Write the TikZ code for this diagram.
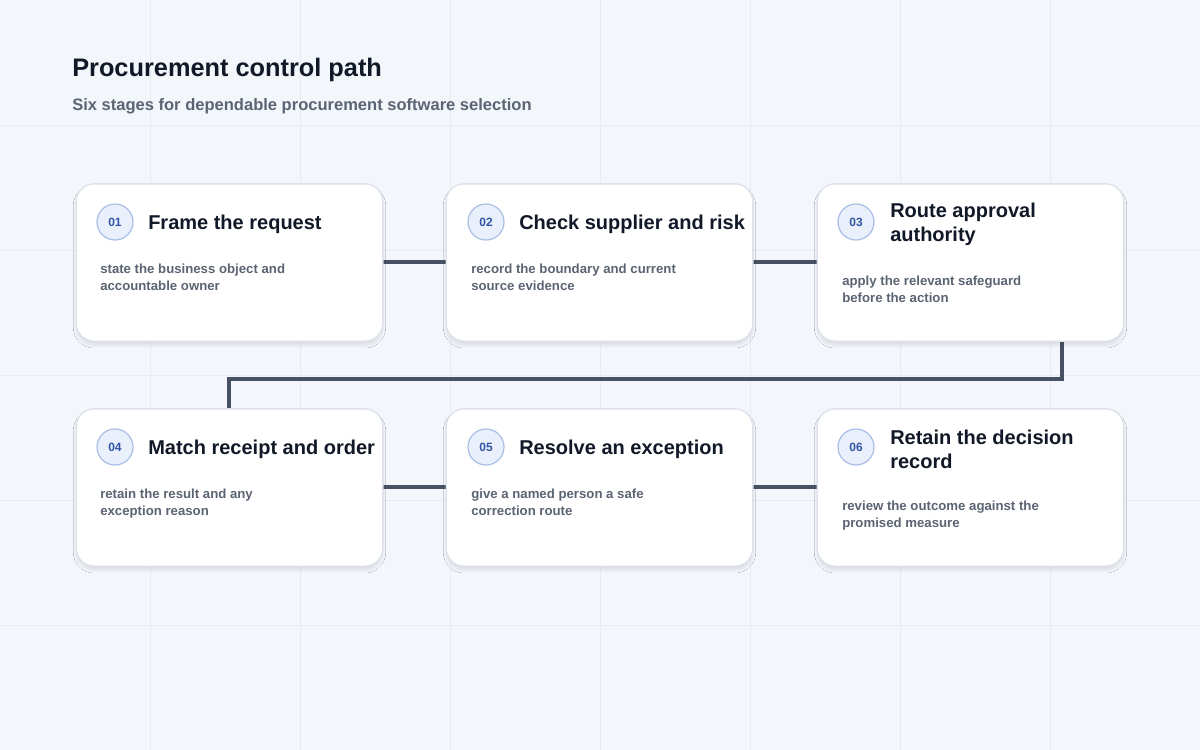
\documentclass[tikz,border=0pt]{standalone}
\usepackage{fontspec}
\setmainfont{Liberation Sans}
\usetikzlibrary{shadows.blur,calc}
\definecolor{bg}{HTML}{F3F6FB}
\definecolor{gridc}{HTML}{E7ECF3}
\definecolor{cardb}{HTML}{DDE2EA}
\definecolor{ink}{HTML}{111827}
\definecolor{sub}{HTML}{5B6472}
\definecolor{line}{HTML}{465264}
\definecolor{badgef}{HTML}{EAF0FB}
\definecolor{badgeb}{HTML}{A9BEE6}
\definecolor{badget}{HTML}{2F55A4}
\begin{document}
\begin{tikzpicture}[x=0.75pt,y=-0.75pt,
 card/.style={draw=cardb,line width=1pt,fill=white,rounded corners=13.5pt,minimum width=230pt,minimum height=118pt,inner sep=0pt,
   blur shadow={shadow blur steps=12,shadow xshift=0pt,shadow yshift=-3pt,shadow opacity=10,shadow blur extra rounding=3pt}},
 badge/.style={circle,draw=badgeb,line width=0.9pt,fill=badgef,minimum size=27pt,inner sep=0pt,text=badget,font=\fontsize{9}{10}\selectfont\bfseries},
 ttl/.style={anchor=west,align=left,text=ink,font=\fontsize{15}{18}\selectfont\bfseries,inner sep=0pt},
 body/.style={anchor=north west,align=left,text=sub,font=\fontsize{9.9}{12.2}\selectfont\bfseries,inner sep=0pt},
 conn/.style={draw=line,line width=3pt}]
\fill[bg] (0,0) rectangle (1200,750);
\useasboundingbox (0,0) rectangle (1200,750);
\foreach \x in {150,300,...,1050} \draw[gridc,line width=0.6pt] (\x,0) -- (\x,750);
\foreach \y in {125,250,375,500,625} \draw[gridc,line width=0.6pt] (0,\y) -- (1200,\y);
\node[anchor=west,inner sep=0pt,text=ink,font=\fontsize{19}{22}\selectfont\bfseries] (title) at (72,70) {Procurement control path};
\node[anchor=west,inner sep=0pt,text=sub,font=\fontsize{12.4}{14}\selectfont\bfseries] (subtitle) at (72,106) {Six stages for dependable procurement software selection};
\coordinate (k1) at (1062,379);
\coordinate (k2) at (229,379);
\draw[conn] (383,262) -- (446,262);
\draw[conn] (753,262) -- (817,262);
\draw[conn] (383,487) -- (446,487);
\draw[conn] (753,487) -- (817,487);
\draw[conn] (1062,341) -- (k1) -- (k2) -- (229,409);
\node[card] (c1) at (229.5,262.5) {};
\node[card] (c2) at (599.5,262.5) {};
\node[card] (c3) at (970.5,262.5) {};
\node[card] (c4) at (229.5,487.5) {};
\node[card] (c5) at (599.5,487.5) {};
\node[card] (c6) at (970.5,487.5) {};
\node[badge] (b1) at (115,222) {01};
\node[ttl] (t1) at (148,224) {Frame the request};
\node[body] (d1) at (100,264) {state the business object and\\accountable owner};
\node[badge] (b2) at (486,222) {02};
\node[ttl] (t2) at (519,224) {Check supplier and risk};
\node[body] (d2) at (471,264) {record the boundary and current\\source evidence};
\node[badge] (b3) at (856,222) {03};
\node[ttl] (t3) at (890,224) {Route approval\\authority};
\node[body] (d3) at (842,276) {apply the relevant safeguard\\before the action};
\node[badge] (b4) at (115,447) {04};
\node[ttl] (t4) at (148,449) {Match receipt and order};
\node[body] (d4) at (100,489) {retain the result and any\\exception reason};
\node[badge] (b5) at (486,447) {05};
\node[ttl] (t5) at (519,449) {Resolve an exception};
\node[body] (d5) at (471,489) {give a named person a safe\\correction route};
\node[badge] (b6) at (856,447) {06};
\node[ttl] (t6) at (890,449) {Retain the decision\\record};
\node[body] (d6) at (842,501) {review the outcome against the\\promised measure};
\end{tikzpicture}
\end{document}
